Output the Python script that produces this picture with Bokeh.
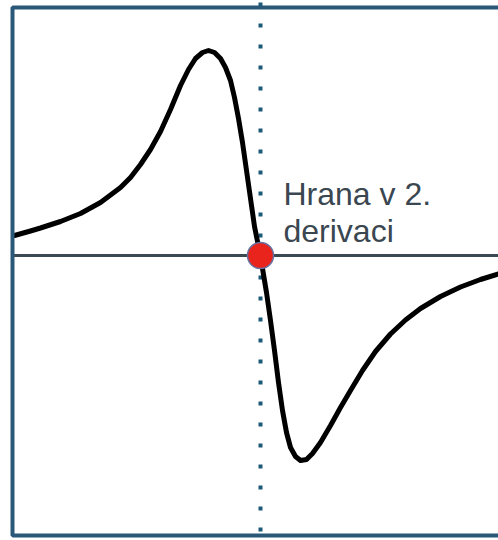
from bokeh.plotting import figure
from bokeh.models import Range1d, ColumnDataSource
from bokeh.core.properties import value
from bokeh.embed import file_html
from bokeh.resources import INLINE

# Signal traced around the edge: x is the offset from the edge, y the signal
offset = [-24.6, -23.0, -22.0, -20.0, -18.0, -16.0, -14.0, -13.0, -12.0,
          -11.0, -10.0, -9.0, -8.0, -7.2, -6.5, -5.8, -5.2, -4.6, -4.0, -3.5,
          -3.0, -2.6, -2.2, -1.8, -1.4, -1.0, -0.6, -0.2, 0.0, 0.2, 0.6, 1.0,
          1.4, 1.8, 2.2, 2.6, 3.0, 3.5, 4.0, 4.6, 5.2, 6.0, 7.0, 8.0, 9.0,
          10.2, 11.5, 13.0, 14.5, 16.0, 18.0, 20.0, 22.0, 23.8]
signal = [0.20, 0.245, 0.275, 0.34, 0.42, 0.53, 0.68, 0.78, 0.91,
          1.06, 1.24, 1.46, 1.70, 1.86, 1.97, 2.03, 2.05, 2.03, 1.97, 1.88,
          1.75, 1.58, 1.37, 1.13, 0.85, 0.57, 0.29, 0.09, 0.0, -0.13, -0.37,
          -0.65, -0.95, -1.27, -1.55, -1.77, -1.92, -2.01, -2.05, -2.04,
          -1.98, -1.87, -1.70, -1.52, -1.35, -1.15, -0.96, -0.785, -0.645,
          -0.53, -0.41, -0.315, -0.24, -0.185]

edge_x = [0.0]
edge_y = [0.0]
label_lines = ["Hrana v 2.", "derivaci"]

frame_left, frame_right = -24.8, 30.0
frame_top, frame_bottom = 2.48, -2.80

p = figure(width=498, height=540, output_backend="svg", toolbar_location=None,
           x_range=Range1d(-26.0, 23.8), y_range=Range1d(-2.85, 2.55),
           min_border=0)
p.axis.visible = False
p.grid.visible = False
p.outline_line_color = None
p.background_fill_color = "white"
p.border_fill_color = "white"

# zero line
p.segment(x0=[frame_left], y0=[0], x1=[frame_right], y1=[0],
          line_color="#3b4952", line_width=3)

# dotted marker of the edge position
p.line(x=[0, 0], y=[2.53, -2.9], line_color="#1d5a78", line_width=4,
       line_dash="4 17")

# curve
p.line(x=offset, y=signal, line_color="black", line_width=5,
       line_join="round", line_cap="round")

# the edge point
p.scatter(x=edge_x, y=edge_y, size=26, fill_color="#e8241c",
          line_color="#6a70a0", line_width=1.5)

# label
src = ColumnDataSource(dict(x=[2.3, 2.3], y=[0.62, 0.25], t=label_lines))
p.text(x="x", y="y", text="t", source=src, text_font=value("Liberation Sans"),
       text_font_size="32px", text_color="#3a4751", text_baseline="alphabetic")

# frame
p.quad(left=[frame_left], right=[frame_right], top=[frame_top],
       bottom=[frame_bottom], fill_color=None, line_color="#2a5878",
       line_width=4)

open("out.html", "w").write(file_html(p, INLINE))
